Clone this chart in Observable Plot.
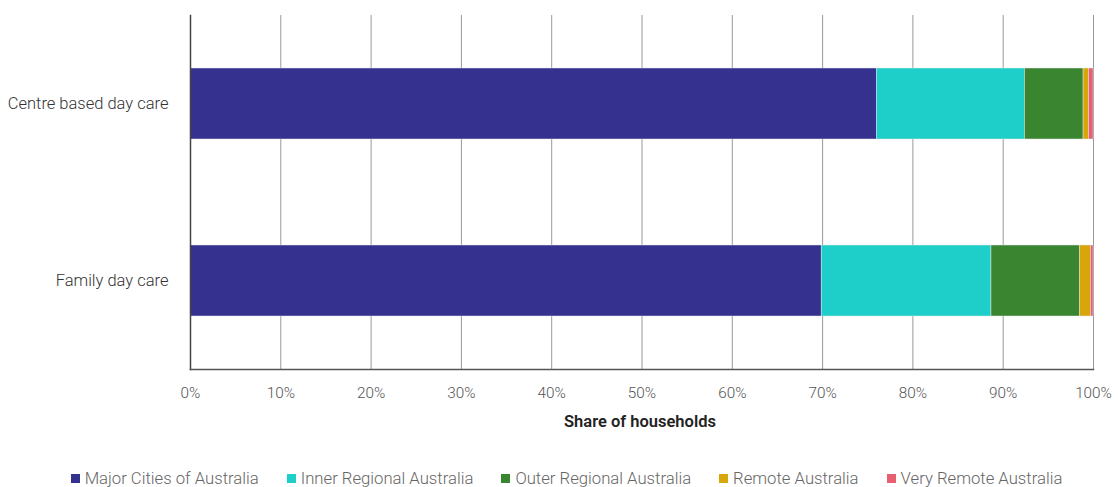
<!DOCTYPE html>
<html>
<head>
<meta charset="utf-8">
<script src="https://cdn.jsdelivr.net/npm/d3@7"></script>
<script src="https://cdn.jsdelivr.net/npm/@observablehq/plot@0.6"></script>
<style>
  body { margin: 0; background: #fff; font-family: Roboto, "Noto Sans", sans-serif; }
  #legend { display: flex; justify-content: center; gap: 28px; margin-top: 19px; padding-left: 15px;
            font-family: Roboto, sans-serif; font-weight: 300; font-size: 16.7px; color: #666; }
  #legend .item { display: flex; align-items: center; gap: 5px; white-space: nowrap; }
  #legend .sw { width: 9px; height: 9px; display: inline-block; }
</style>
</head>
<body>
<div id="chart"></div>
<div id="legend"></div>
<script>
const categories = ["Centre based day care", "Family day care"];
const regions = ["Major Cities of Australia", "Inner Regional Australia", "Outer Regional Australia", "Remote Australia", "Very Remote Australia"];
const centreBasedValues = [76.0, 16.4, 6.5, 0.6, 0.5];
const familyDayCareValues = [69.9, 18.8, 9.8, 1.2, 0.3];
const regionColors = ["#35318f", "#1ecfc9", "#3a8630", "#d6a60a", "#e8606f"];
const xTicks = [0, 10, 20, 30, 40, 50, 60, 70, 80, 90, 100];
const xLabel = "Share of households";

const seriesByCategory = [centreBasedValues, familyDayCareValues];
const data = [];
categories.forEach((c, i) => {
  regions.forEach((r, j) => data.push({category: c, region: r, value: seriesByCategory[i][j]}));
});

const chart = Plot.plot({
  width: 1118,
  height: 450,
  marginTop: 15,
  marginBottom: 81,
  marginLeft: 190,
  marginRight: 25,
  style: {fontFamily: "Roboto, sans-serif", fontSize: "15px", background: "#fff"},
  x: {domain: [0, 100], axis: null},
  y: {domain: categories, paddingInner: 0.6, paddingOuter: 0.3, axis: null},
  color: {domain: regions, range: regionColors},
  marks: [
    Plot.gridX(xTicks, {stroke: "#999", strokeOpacity: 1, strokeWidth: 1}),
    Plot.barX(data, {x: "value", y: "category", fill: "region", order: regions, stroke: "#e6e6e6", strokeWidth: 0.5}),
    Plot.frame({anchor: "left", stroke: "#444", strokeWidth: 1.5}),
    Plot.frame({anchor: "bottom", stroke: "#555", strokeWidth: 1.5}),
    Plot.axisX(xTicks, {tickSize: 0, tickPadding: 18, tickFormat: d => d + "%", fill: "#555", fontWeight: 300, fontSize: 15.3, label: null}),
    Plot.axisY({tickSize: 0, tickPadding: 22, fill: "#333", fontWeight: 300, fontSize: 16.5, label: null}),
    Plot.text([xLabel], {frameAnchor: "bottom", dy: 52, dx: -2, lineAnchor: "middle", fontWeight: 600, fill: "#222", fontSize: 16.5})
  ]
});
document.getElementById("chart").appendChild(chart);

const legend = document.getElementById("legend");
regions.forEach((r, i) => {
  const item = document.createElement("span");
  item.className = "item";
  const sw = document.createElement("span");
  sw.className = "sw";
  sw.style.background = regionColors[i];
  const t = document.createElement("span");
  t.textContent = r;
  item.appendChild(sw);
  item.appendChild(t);
  legend.appendChild(item);
});
</script>
</body>
</html>
